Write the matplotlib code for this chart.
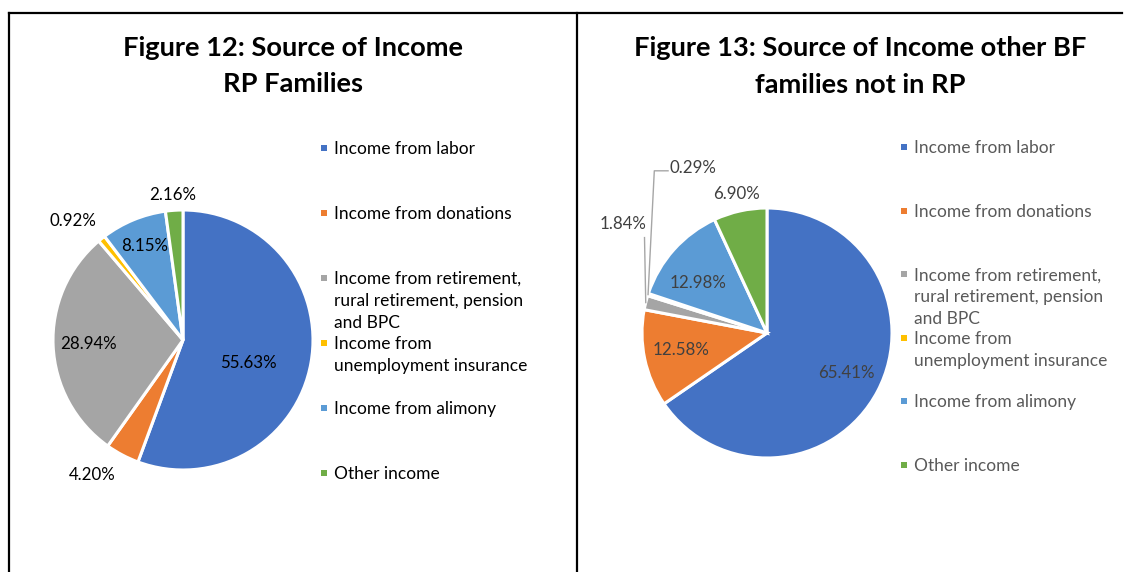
import numpy as np
import matplotlib.pyplot as plt
from matplotlib.patches import Rectangle
from matplotlib.lines import Line2D

# 数据
categories = ['Income from labor', 'Income from donations',
              'Income from retirement,\nrural retirement, pension\nand BPC',
              'Income from\nunemployment insurance',
              'Income from alimony', 'Other income']
rp_values = [55.63, 4.20, 28.94, 0.92, 8.15, 2.16]
bf_values = [65.41, 12.58, 1.84, 0.29, 12.98, 6.90]
colors = ['#4472C4', '#ED7D31', '#A5A5A5', '#FFC000', '#5B9BD5', '#70AD47']

title_rp = 'Figure 12: Source of Income\nRP Families'
title_bf = 'Figure 13: Source of Income other BF\nfamilies not in RP'

W, H = 1131, 572
plt.rcParams['font.family'] = ['Lato', 'DejaVu Sans']

fig = plt.figure(figsize=(W / 100, H / 100), dpi=100)


def px(x, y):
    # 像素坐标(左上原点) -> figure 坐标
    return x / W, 1 - y / H


def pie_axes(cx, cy, r):
    ax = fig.add_axes([(cx - r) / W, 1 - (cy + r) / H, 2 * r / W, 2 * r / H])
    ax.axis('off')
    return ax


def draw_pie(ax, values, label_pos, txt_color):
    wedges, _ = ax.pie(values, colors=colors, startangle=90, counterclock=False,
                       radius=1, wedgeprops=dict(edgecolor='white', linewidth=2.2))
    ax.set_xlim(-1, 1)
    ax.set_ylim(-1, 1)
    ax.set_aspect('equal')
    # 标签: (半径比例, 角度偏移, 逆时针为正)
    for w, v, (rf, da) in zip(wedges, values, label_pos):
        ang = np.deg2rad((w.theta1 + w.theta2) / 2 + da)
        ax.text(rf * np.cos(ang), rf * np.sin(ang), f'{v:.2f}%',
                ha='center', va='center', fontsize=12.2, color=txt_color)
    return wedges


def edge_point(w, r=1.0):
    ang = np.deg2rad((w.theta1 + w.theta2) / 2)
    return r * np.cos(ang), r * np.sin(ang)


def draw_title(xc, y_lines, text):
    for y, line in zip(y_lines, text.split('\n')):
        fig.text(*px(xc, y), line, ha='center', va='center', fontsize=19.6,
                 fontweight='bold')


def draw_legend(x0, y0, step, txt_color):
    for i, (lab, c) in enumerate(zip(categories, colors)):
        y = y0 + i * step
        fx, fy = px(x0 - 3, y + 3)
        fig.patches.append(Rectangle((fx, fy), 6 / W, 6 / H, facecolor=c,
                                     edgecolor='none', transform=fig.transFigure))
        for j, line in enumerate(lab.split('\n')):
            fig.text(*px(x0 + 10, y + 6 + 22 * j), line, ha='left', va='baseline',
                     fontsize=12.5, color=txt_color)


# 边框
fig.add_artist(Line2D([9 / W, 9 / W], [0, 1 - 12.5 / H], color='black', lw=1.6,
                      transform=fig.transFigure))
fig.add_artist(Line2D([577 / W, 577 / W], [0, 1 - 12.5 / H], color='black', lw=1.6,
                      transform=fig.transFigure))
fig.add_artist(Line2D([8.5 / W, 1122 / W], [1 - 12.5 / H, 1 - 12.5 / H], color='black',
                      lw=1.6, transform=fig.transFigure))

# 左图
ax1 = pie_axes(183, 340, 130)
draw_pie(ax1, rp_values,
         [(0.53, -9), (1.25, -6), (0.73, 0), (1.25, 4), (0.78, 0), (1.12, 0)], 'black')
draw_title(293, [48, 84], title_rp)
draw_legend(324, 148, 65, 'black')

# 右图
ax2 = pie_axes(767, 333, 125)
w2 = draw_pie(ax2, bf_values,
              [(0.71, 1), (0.70, -1), (1.44, -23), (1.45, -48), (0.68, 6), (1.14, 0)],
              '#404040')
draw_title(860, [48, 85], title_bf)
draw_legend(904, 147, 63.6, '#595959')

# 引线
x0, y0 = edge_point(w2[2], 1.0)
ax2.plot([x0, x0 - 0.01], [y0, y0 + 0.52], color='#A6A6A6', lw=1, clip_on=False)
x1, y1 = edge_point(w2[3], 1.0)
ax2.plot([x1, x1 + 0.05, x1 + 0.16], [y1, y1 + 0.99, y1 + 0.99], color='#A6A6A6',
         lw=1, clip_on=False)

fig.savefig('out.png', dpi=100, facecolor='white')
